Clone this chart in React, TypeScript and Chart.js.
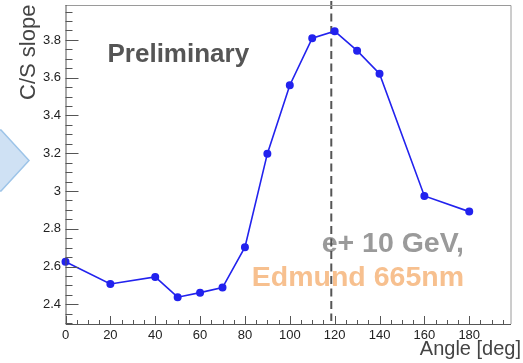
import React, { useEffect, useRef } from "react";
import { Chart, registerables } from "chart.js";

Chart.register(...registerables);

const angles = [0, 20, 40, 50, 60, 70, 80, 90, 100, 110, 120, 130, 140, 160, 180];
const slopes = [2.626, 2.508, 2.545, 2.438, 2.462, 2.489, 2.703, 3.198, 3.56, 3.809, 3.846, 3.743, 3.621, 2.974, 2.891];
const xTickValues = [0, 20, 40, 60, 80, 100, 120, 140, 160, 180];
const xTickLabels = ["0", "20", "40", "60", "80", "100", "120", "140", "160", "180"];
const yTickValues = [2.4, 2.6, 2.8, 3.0, 3.2, 3.4, 3.6, 3.8];
const yTickLabels = ["2.4", "2.6", "2.8", "3", "3.2", "3.4", "3.6", "3.8"];
const xMinorStep = 5;
const yMinorStep = 0.05;
const xRange = [0, 198.4];
const yRange = [2.296, 3.985];
const markerAngle = 118.5;

const FONT = "'Liberation Sans', Arial, Helvetica, sans-serif";

const decorPlugin = {
  id: "decor",
  beforeDraw(chart: any) {
    const ctx = chart.ctx;
    ctx.save();
    ctx.beginPath();
    ctx.moveTo(-2, 130);
    ctx.lineTo(1, 130);
    ctx.lineTo(29, 160.5);
    ctx.lineTo(1, 191);
    ctx.lineTo(-2, 191);
    ctx.closePath();
    ctx.fillStyle = "#cfe1f4";
    ctx.fill();
    ctx.strokeStyle = "#9dc4e8";
    ctx.lineWidth = 1.5;
    ctx.stroke();
    ctx.restore();
  },
  beforeDatasetsDraw(chart: any) {
    const ctx = chart.ctx;
    const { top, bottom } = chart.chartArea;
    const xs = chart.scales.x;
    ctx.save();
    ctx.font = `bold 26px ${FONT}`;
    ctx.fillStyle = "#555555";
    ctx.textAlign = "left";
    ctx.textBaseline = "alphabetic";
    ctx.fillText("Preliminary", 107.5, 61.7);
    ctx.font = `bold 28.5px ${FONT}`;
    ctx.textAlign = "right";
    ctx.fillStyle = "#9a9a9a";
    ctx.fillText("e+ 10 GeV,", 464, 251.5);
    ctx.fillStyle = "#f7c08f";
    ctx.fillText("Edmund 665nm", 464, 285.5);
    const px = xs.getPixelForValue(markerAngle);
    ctx.beginPath();
    ctx.setLineDash([8, 4.5]);
    ctx.strokeStyle = "#555555";
    ctx.lineWidth = 2;
    ctx.moveTo(px, top - 4);
    ctx.lineTo(px, bottom - 3);
    ctx.stroke();
    ctx.restore();
  },
  afterDatasetsDraw(chart: any) {
    const ctx = chart.ctx;
    const { left, right, top, bottom } = chart.chartArea;
    const xs = chart.scales.x;
    const ys = chart.scales.y;
    ctx.save();
    ctx.strokeStyle = "#9a9a9a";
    ctx.lineWidth = 1;
    ctx.beginPath();
    ctx.moveTo(left, top + 0.5);
    ctx.lineTo(right + 0.5, top + 0.5);
    ctx.lineTo(right + 0.5, bottom);
    ctx.stroke();
    ctx.strokeStyle = "#555555";
    ctx.beginPath();
    ctx.moveTo(left + 0.5, top);
    ctx.lineTo(left + 0.5, bottom + 0.5);
    ctx.lineTo(right + 0.5, bottom + 0.5);
    ctx.stroke();
    ctx.beginPath();
    for (let v = 2.3; v <= yRange[1] + 1e-9; v += yMinorStep) {
      const isMajor = yTickValues.some((t) => Math.abs(t - v) < 1e-6);
      const py = Math.round(ys.getPixelForValue(v)) + 0.5;
      if (py < top || py > bottom) continue;
      ctx.moveTo(left, py);
      ctx.lineTo(left + (isMajor ? 13 : 7), py);
    }
    for (let v = 0; v <= xRange[1] + 1e-9; v += xMinorStep) {
      const isMajor = xTickValues.some((t) => Math.abs(t - v) < 1e-6);
      const px = Math.round(xs.getPixelForValue(v)) + 0.5;
      if (px < left || px > right) continue;
      ctx.moveTo(px, bottom);
      ctx.lineTo(px, bottom - (isMajor ? 8 : 4));
    }
    ctx.stroke();
    ctx.fillStyle = "#222222";
    ctx.font = `13px ${FONT}`;
    ctx.textAlign = "right";
    ctx.textBaseline = "middle";
    yTickValues.forEach((v, i) => {
      ctx.fillText(yTickLabels[i], 61, ys.getPixelForValue(v));
    });
    ctx.textAlign = "center";
    ctx.textBaseline = "alphabetic";
    xTickValues.forEach((v, i) => {
      ctx.fillText(xTickLabels[i], xs.getPixelForValue(v), 338.5);
    });
    ctx.fillStyle = "#444444";
    ctx.font = `20px ${FONT}`;
    ctx.textAlign = "right";
    ctx.fillText("Angle [deg]", 521, 355);
    ctx.save();
    ctx.translate(35, 100);
    ctx.rotate(-Math.PI / 2);
    ctx.textAlign = "left";
    ctx.font = `22px ${FONT}`;
    ctx.fillText("C/S slope", 0, 0);
    ctx.restore();
    ctx.restore();
  },
};

export default function App() {
  const ref = useRef<HTMLCanvasElement | null>(null);
  useEffect(() => {
    document.body.style.margin = "0";
    const chart = new Chart(ref.current as HTMLCanvasElement, {
      type: "scatter",
      data: {
        datasets: [
          {
            data: angles.map((a, i) => ({ x: a, y: slopes[i] })),
            showLine: true,
            borderColor: "#2222ee",
            backgroundColor: "#2222ee",
            borderWidth: 1.6,
            pointRadius: 3.2,
            pointHoverRadius: 3.2,
            clip: false as any,
          },
        ],
      },
      options: {
        animation: false,
        responsive: false,
        maintainAspectRatio: false,
        events: [],
        layout: { padding: { left: 65.5, right: 12.5, top: 5, bottom: 39 } },
        plugins: { legend: { display: false }, tooltip: { enabled: false } },
        scales: {
          x: { type: "linear", min: xRange[0], max: xRange[1], display: false },
          y: { type: "linear", min: yRange[0], max: yRange[1], display: false },
        },
      },
      plugins: [decorPlugin],
    });
    return () => chart.destroy();
  }, []);
  return (
    <div style={{ position: "absolute", left: 0, top: 0, width: 523, height: 363, background: "#fff" }}>
      <canvas ref={ref} width={523} height={363} style={{ width: 523, height: 363 }} />
    </div>
  );
}
